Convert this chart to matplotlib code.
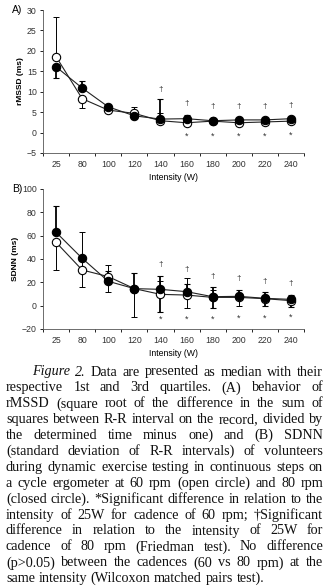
import numpy as np
import matplotlib
matplotlib.use("Agg")
import matplotlib.pyplot as plt

nan = np.nan

intensity = ["25", "80", "100", "120", "140", "160", "180", "200", "220", "240"]

# A) rMSSD (ms): medians and visible quartile whiskers
rmssd_60 = [18.6, 8.3, 5.5, 4.7, 2.9, 2.4, 2.8, 2.4, 2.6, 2.8]
rmssd_60_q1 = [nan, 5.9, nan, nan, nan, nan, nan, nan, nan, nan]
rmssd_60_q3 = [28.2, nan, nan, 6.2, 4.9, nan, nan, nan, nan, nan]
rmssd_80 = [16.1, 10.9, 6.3, 4.1, 3.3, 3.4, 2.9, 3.1, 3.1, 3.4]
rmssd_80_q1 = [13.3, nan, nan, nan, nan, nan, nan, nan, nan, nan]
rmssd_80_q3 = [nan, 12.6, nan, nan, 8.2, 4.3, nan, nan, nan, nan]
rmssd_dagger = [nan, nan, nan, nan, 10.6, 7.2, 6.4, 6.4, 6.4, 6.6]
rmssd_star = [nan, nan, nan, nan, nan, -0.9, -0.9, -1.0, -1.0, -0.7]

# B) SDNN (ms)
sdnn_60 = [54.3, 30.6, 24.9, 14.6, 9.7, 9.1, 7.1, 7.1, 6.0, 4.3]
sdnn_60_q1 = [30.6, 15.7, 11.7, -9.4, nan, -2.3, nan, -0.6, nan, nan]
sdnn_60_q3 = [nan, 62.9, 34.6, nan, 20.9, 23.4, 13.4, nan, nan, nan]
sdnn_80 = [62.9, 40.6, 20.9, 14.6, 14.0, 12.0, 7.7, 8.0, 6.3, 5.4]
sdnn_80_q1 = [nan, nan, nan, nan, -5.4, nan, -2.0, nan, -0.3, -0.9]
sdnn_80_q3 = [85.7, nan, 30.0, 28.3, 25.7, 18.6, 15.7, 13.7, 12.0, 9.4]
sdnn_dagger = [nan, nan, nan, nan, 35.7, 31.0, 24.9, 23.0, 20.3, 19.0]
sdnn_star = [nan, nan, nan, nan, -12.0, -12.0, -11.5, -10.5, -10.5, -9.8]

caption_lines = [
    "Figure 2. Data are presented as median with their",
    "respective 1st and 3rd quartiles. (A) behavior of",
    "rMSSD (square root of the difference in the sum of",
    "squares between R-R interval on the record, divided by",
    "the determined time minus one) and (B) SDNN",
    "(standard deviation of R-R intervals) of volunteers",
    "during dynamic exercise testing in continuous steps on",
    "a cycle ergometer at 60 rpm (open circle) and 80 rpm",
    "(closed circle). *Significant difference in relation to the",
    "intensity of 25W for cadence of 60 rpm; \u2020Significant",
    "difference in relation to the intensity of 25W for",
    "cadence of 80 rpm (Friedman test). No difference",
    "(p>0.05) between the cadences (60 vs 80 rpm) at the",
    "same intensity (Wilcoxon matched pairs test).",
]

W, H = 326, 587
plt.rcParams["font.family"] = ["Liberation Sans", "DejaVu Sans"]
fig = plt.figure(figsize=(W / 100, H / 100), dpi=100)


def box(l, t, r, b):
    return [l / W, 1 - b / H, (r - l) / W, (b - t) / H]


def yerr(med, q1, q3):
    # a missing whisker becomes a zero-length one, hidden by the marker
    med = np.array(med, float)
    lo = np.nan_to_num(med - np.array(q1, float))
    hi = np.nan_to_num(np.array(q3, float) - med)
    return np.vstack([lo, hi])


def panel(ax, m60, q1_60, q3_60, m80, q1_80, q3_80, dag, star,
          ylim, yticks, ylabel, letter):
    x = np.arange(len(intensity))
    ax.errorbar(x, m60, yerr=yerr(m60, q1_60, q3_60), fmt="none",
                ecolor="black", elinewidth=0.7, capsize=2.5, capthick=0.7,
                zorder=2)
    ax.errorbar(x, m80, yerr=yerr(m80, q1_80, q3_80), fmt="none",
                ecolor="black", elinewidth=1.3, capsize=2.5, capthick=0.8,
                zorder=2)
    ax.plot(x, m60, "-o", color="#222222", lw=0.8, ms=6,
            mfc="white", mec="black", mew=0.8, zorder=3)
    ax.plot(x, m80, "-o", color="#222222", lw=0.8, ms=6,
            mfc="black", mec="black", mew=0.8, zorder=4)
    for i in x:
        if not np.isnan(dag[i]):
            ax.text(i, dag[i], "\u2020", ha="center", va="center",
                    fontsize=6, color="#333333")
        if not np.isnan(star[i]):
            ax.text(i, star[i], "*", ha="center", va="center",
                    fontsize=6.5, color="#333333")

    ax.set_xlim(-0.5, len(intensity) - 0.5)
    ax.set_ylim(*ylim)
    ax.set_yticks(yticks)
    ax.set_xticks(x)
    ax.set_xticklabels(intensity)
    ax.set_xticks(np.arange(len(intensity) + 1) - 0.5, minor=True)
    ax.tick_params(axis="x", which="major", length=0, pad=5,
                   labelsize=6.3, labelcolor="#333333")
    ax.tick_params(axis="x", which="minor", length=2.5, width=0.6)
    ax.tick_params(axis="y", length=2.5, width=0.6, pad=2,
                   labelsize=6.3, labelcolor="#333333")
    for s in ["top", "right"]:
        ax.spines[s].set_visible(False)
    for s in ["left", "bottom"]:
        ax.spines[s].set_linewidth(0.6)
        ax.spines[s].set_color("#555555")
    ax.set_ylabel(ylabel, fontsize=6, fontweight="bold", labelpad=2)
    ax.set_xlabel("Intensity (W)", fontsize=6.3, labelpad=3)
    ax.text(-0.12, 1.0, letter, transform=ax.transAxes, fontsize=7.5,
            ha="left", va="center")


axA = fig.add_axes(box(43, 10, 304, 153))
panel(axA, rmssd_60, rmssd_60_q1, rmssd_60_q3,
      rmssd_80, rmssd_80_q1, rmssd_80_q3, rmssd_dagger, rmssd_star,
      (-5, 30), np.arange(-5, 31, 5), "rMSSD (ms)", "A)")

axB = fig.add_axes(box(43, 189, 304, 329))
panel(axB, sdnn_60, sdnn_60_q1, sdnn_60_q3,
      sdnn_80, sdnn_80_q1, sdnn_80_q3, sdnn_dagger, sdnn_star,
      (-20, 100), np.arange(-20, 101, 20), "SDNN (ms)", "B)")

# caption, justified by hand
renderer = fig.canvas.get_renderer()
x_left, x_right = 6, 323
y_first, dy = 372, 15.9
serif = ["Liberation Serif", "DejaVu Serif"]

# pick the size at which the longest line just fills the width
probe_size = 10
natural = []
for n, line in enumerate(caption_lines):
    t = fig.text(0, 0, line, fontsize=probe_size, family=serif)
    natural.append(t.get_window_extent(renderer).width + (26 if n == 0 else 0))
    t.remove()
fsize = probe_size * (x_right - x_left) / max(natural) * 0.99


def put(word, xpx, ypx, italic=False):
    return fig.text(xpx / W, 1 - ypx / H, word, fontsize=fsize,
                    family=serif, style="italic" if italic else "normal",
                    ha="left", va="center", color="#111111")


for n, line in enumerate(caption_lines):
    words = line.split(" ")
    ypx = y_first + n * dy
    start = 32 if n == 0 else x_left
    texts = [put(w, 0, ypx, italic=(n == 0 and k < 2))
             for k, w in enumerate(words)]
    widths = [t.get_window_extent(renderer).width for t in texts]
    if n < len(caption_lines) - 1 and len(words) > 1:
        gap = (x_right - start - sum(widths)) / (len(words) - 1)
    else:
        gap = fsize * 0.35
    xpos = start
    for t, wd in zip(texts, widths):
        t.set_x(xpos / W)
        xpos += wd + gap

fig.savefig("out.png", dpi=100)
